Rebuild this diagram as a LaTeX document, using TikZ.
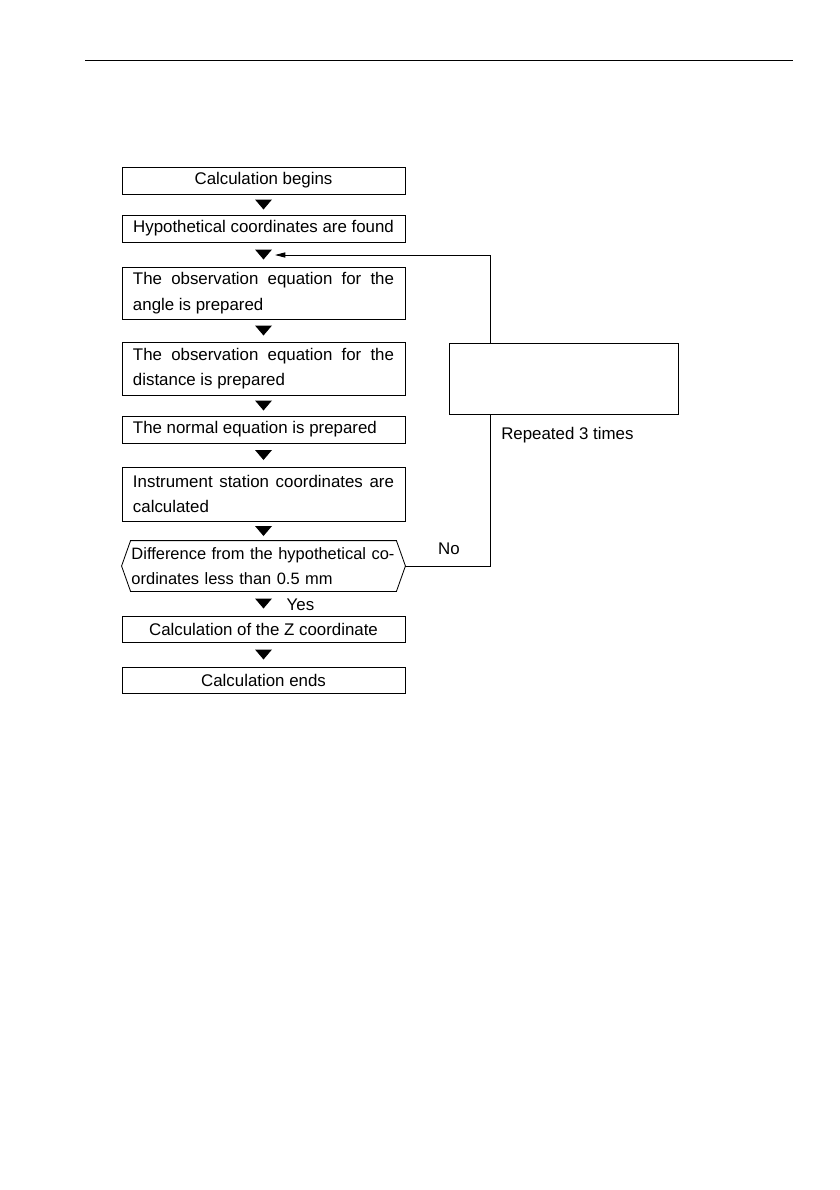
\documentclass[tikz,border=0pt]{standalone}
\usepackage{fontspec}
\setmainfont{Liberation Sans}
\usetikzlibrary{calc,arrows.meta}
\hyphenpenalty=10000
\tolerance=9999

\tikzset{
	every node/.style={font=\fontsize{12}{18}\selectfont},
	stepbox/.style={draw, line width=0.6pt, minimum width=70.75mm, inner xsep=2.75mm, inner ysep=0pt},
	parbox/.style={stepbox, text width=65.25mm, align=justify},
	downtri/.pic={\fill (-8.5,-5) -- (8.5,-5) -- (0,5) -- cycle;}
}

\begin{document}
\begin{tikzpicture}[x=0.25mm, y=-0.25mm]
			\useasboundingbox (0,0) rectangle (840,1190);
			\draw [line width=0.7pt] (85,60) -- (793,60);
			\node [stepbox, minimum height=6.75mm] (begin) at (263.5,180.5) {Calculation begins};
			\node [stepbox, minimum height=6.75mm] (hypo) at (263.5,228.5) {Hypothetical coordinates are found};
			\node [parbox, minimum height=13mm] (angle) at (263.5,293) {The observation equation for the angle is prepared};
			\node [parbox, minimum height=13.25mm] (dist) at (263.5,368.5) {The observation equation for the distance is prepared};
			\node [parbox, minimum height=6.75mm] (normal) at (263.5,429.5) {The normal equation is prepared};
			\node [parbox, minimum height=13.5mm] (station) at (263.5,494) {Instrument station coordinates are calculated};
			\node [parbox, draw=none, minimum height=12.5mm, text width=66mm, inner xsep=2.3mm, align=left, font=\fontsize{11.7}{18}\selectfont] (check) at (263.5,566) {Difference from the hypothetical co-\\ordinates less than 0.5 mm};
			\draw [line width=0.6pt] (check.west) -- ($(check.north west)+(9,0)$) -- ($(check.north east)+(-9,0)$) -- (check.east) -- ($(check.south east)+(-9,0)$) -- ($(check.south west)+(9,0)$) -- cycle;
			\node [stepbox, minimum height=6.5mm] (zcoord) at (263.5,629) {Calculation of the Z coordinate};
			\node [stepbox, minimum height=6.5mm] (end) at (263.5,680) {Calculation ends};
			% flow triangles
			\pic at ($(begin.south)!0.5!(hypo.north)$) {downtri};
			\pic at ($(hypo.south)!0.5!(angle.north)$) {downtri};
			\pic at ($(angle.south)!0.5!(dist.north)$) {downtri};
			\pic at ($(dist.south)!0.5!(normal.north)$) {downtri};
			\pic at ($(normal.south)!0.5!(station.north)$) {downtri};
			\pic at ($(station.south)!0.5!(check.north)$) {downtri};
			\pic at ($(check.south)!0.5!(zcoord.north)$) {downtri};
			\pic at ($(zcoord.south)!0.5!(end.north)$) {downtri};
			% loop back
			\coordinate (back) at (275,255);
			\draw [line width=0.6pt, -{Triangle[length=2.6mm, width=1.3mm]}] (check.east) -- ++(85,0) |- (back);
			\node [draw, fill=white, line width=0.6pt, minimum width=57.25mm, minimum height=17.75mm, inner sep=0pt] (repbox) at (563.5,378.5) {};
			\node [anchor=base west, inner sep=0pt] (reptext) at (501,439) {Repeated 3 times};
			\node [anchor=base, inner sep=0pt] (no) at (449,554) {No};
			\node [anchor=base, inner sep=0pt] (yes) at (300.5,610) {Yes};
\end{tikzpicture}
\end{document}
